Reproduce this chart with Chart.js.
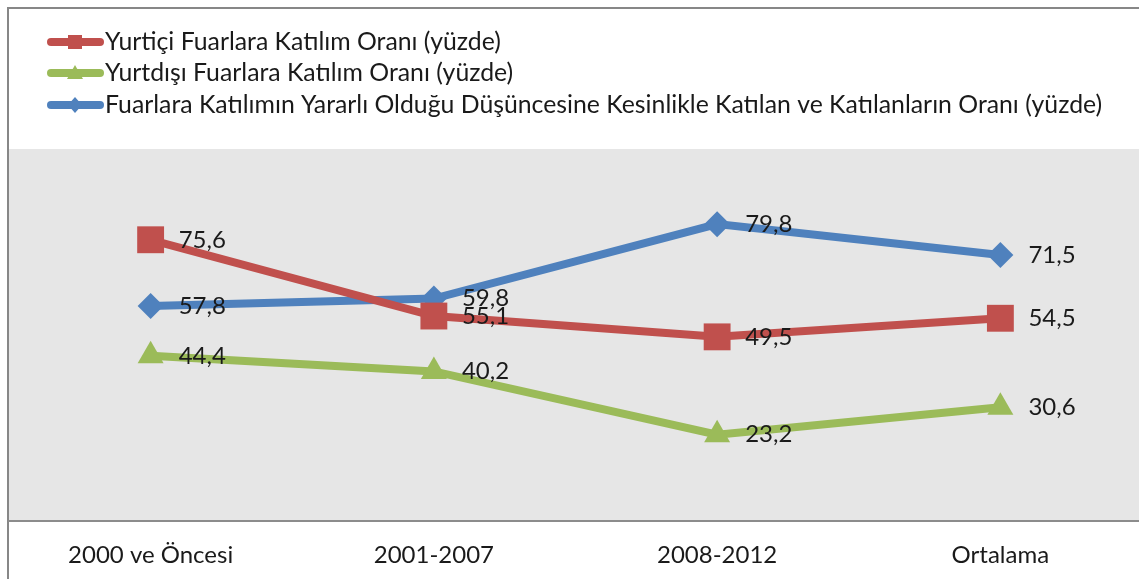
<!DOCTYPE html>
<html>
<head>
<meta charset="utf-8">
<script src="https://cdn.jsdelivr.net/npm/chart.js@4"></script>
<style>
  html, body { margin: 0; padding: 0; overflow: hidden; background: #fff; }
  #wrap { position: absolute; left: 0; top: 0; }
</style>
</head>
<body>
<div id="wrap"><canvas id="chart" width="1150" height="579"></canvas></div>
<script>
// kategoriler ve seriler
const categories = ['2000 ve Öncesi', '2001-2007', '2008-2012', 'Ortalama'];
const seriesNames = [
    'Yurtiçi Fuarlara Katılım Oranı (yüzde)',
    'Yurtdışı Fuarlara Katılım Oranı (yüzde)',
    'Fuarlara Katılımın Yararlı Olduğu Düşüncesine Kesinlikle Katılan ve Katılanların Oranı (yüzde)'
];
const yurticiData = [75.6, 55.1, 49.5, 54.5];
const yurtdisiData = [44.4, 40.2, 23.2, 30.6];
const yararliData = [57.8, 59.8, 79.8, 71.5];

const FONT = 'Lato, "Noto Sans", sans-serif';
const TEXT = '#1a1a1a';

// arka plan, çerçeve ve gösterge
const framePlugin = {
    id: 'frame',
    beforeDraw(chart) {
        const { ctx, chartArea } = chart;
        ctx.save();
        ctx.fillStyle = '#e6e6e6';
        ctx.fillRect(9, chartArea.top, chart.width - 9, chartArea.bottom - chartArea.top);
        ctx.strokeStyle = '#878787';
        ctx.lineWidth = 2;
        ctx.beginPath();
        ctx.moveTo(8, chart.height);
        ctx.lineTo(8, 8);
        ctx.lineTo(chart.width, 8);
        ctx.stroke();
        ctx.restore();
    },
    afterDraw(chart) {
        const ctx = chart.ctx;
        const rows = [42, 73, 105];
        ctx.save();
        chart.data.datasets.forEach((ds, i) => {
            const y = rows[i];
            ctx.strokeStyle = ds.borderColor;
            ctx.fillStyle = ds.borderColor;
            ctx.lineWidth = 8;
            ctx.lineCap = 'round';
            ctx.beginPath();
            ctx.moveTo(51, y);
            ctx.lineTo(100, y);
            ctx.stroke();
            ctx.beginPath();
            if (ds.pointStyle === 'rect') {
                ctx.rect(68, y - 7, 14, 14);
            } else if (ds.pointStyle === 'triangle') {
                ctx.moveTo(75, y - 8);
                ctx.lineTo(83, y + 6);
                ctx.lineTo(67, y + 6);
                ctx.closePath();
            } else {
                ctx.moveTo(75, y - 8);
                ctx.lineTo(82, y);
                ctx.lineTo(75, y + 8);
                ctx.lineTo(68, y);
                ctx.closePath();
            }
            ctx.fill();
            ctx.font = '24.8px ' + FONT;
            ctx.fillStyle = TEXT;
            ctx.textBaseline = 'middle';
            ctx.textAlign = 'left';
            ctx.fillText(ds.label, 105, y);
        });
        ctx.restore();
    }
};

// veri etiketleri
const valueLabels = {
    id: 'valueLabels',
    afterDatasetsDraw(chart) {
        const ctx = chart.ctx;
        ctx.save();
        ctx.font = '24px ' + FONT;
        ctx.fillStyle = TEXT;
        ctx.textBaseline = 'middle';
        ctx.textAlign = 'left';
        chart.data.datasets.forEach((ds, i) => {
            chart.getDatasetMeta(i).data.forEach((pt, j) => {
                ctx.fillText(ds.data[j].toFixed(1).replace('.', ','), pt.x + 28, pt.y);
            });
        });
        ctx.restore();
    }
};

new Chart(document.getElementById('chart'), {
    type: 'line',
    data: {
        labels: categories,
        datasets: [
            {
                label: seriesNames[0],
                data: yurticiData,
                borderColor: '#c0504d',
                backgroundColor: '#c0504d',
                borderWidth: 8,
                pointStyle: 'rect',
                pointRadius: 19,
                pointBorderWidth: 0
            },
            {
                label: seriesNames[1],
                data: yurtdisiData,
                borderColor: '#9bbb59',
                backgroundColor: '#9bbb59',
                borderWidth: 8,
                pointStyle: 'triangle',
                pointRadius: 15,
                pointBorderWidth: 0
            },
            {
                label: seriesNames[2],
                data: yararliData,
                borderColor: '#4f81bd',
                backgroundColor: '#4f81bd',
                borderWidth: 8,
                pointStyle: 'rectRot',
                pointRadius: 13,
                pointBorderWidth: 0
            }
        ]
    },
    options: {
        responsive: false,
        animation: false,
        layout: { autoPadding: false, padding: { left: 9, right: 8, top: 149, bottom: 0 } },
        plugins: {
            legend: { display: false },
            tooltip: { enabled: false }
        },
        scales: {
            x: {
                offset: true,
                grid: { display: false, drawTicks: false, offset: true },
                border: { display: true, color: '#8c8c8c', width: 2 },
                ticks: { font: { family: FONT, size: 24 }, color: TEXT, padding: 20 },
                afterFit(scale) { scale.height = 58; }
            },
            y: { display: false, min: 0, max: 100 }
        }
    },
    plugins: [framePlugin, valueLabels]
});
</script>
</body>
</html>
